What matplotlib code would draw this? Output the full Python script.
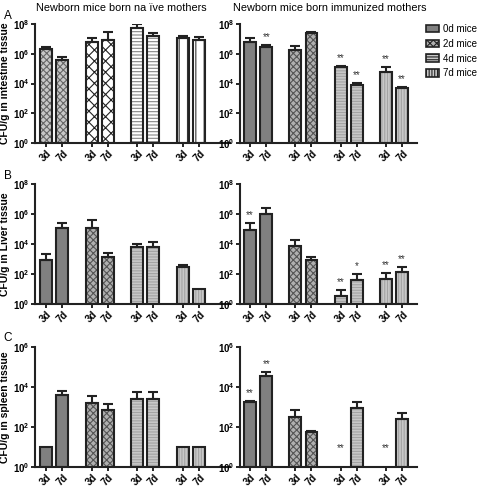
import matplotlib
matplotlib.use("Agg")
import matplotlib.pyplot as plt
import numpy as np

plt.rcParams['font.family'] = ['Liberation Sans', 'DejaVu Sans']
plt.rcParams['mathtext.fontset'] = 'custom'
plt.rcParams['mathtext.rm'] = 'Liberation Sans'
plt.rcParams['mathtext.bf'] = 'Liberation Sans:bold'
plt.rcParams['hatch.linewidth'] = 0.8

# groups: 0d, 2d, 4d, 7d mice ; each with 3d and 7d bars
groups = ['0d mice', '2d mice', '4d mice', '7d mice']
days = ['3d', '7d']

# log10 CFU/g means and log10 of top of error bar (None = no bar / no error)
# intestine
int_naive = [6.30, 5.56, 6.78, 6.96, 7.77, 7.23, 7.07, 6.91]
int_naive_err = [6.50, 5.79, 7.07, 7.45, 8.04, 7.43, 7.23, 7.12]
int_imm = [6.80, 6.44, 6.28, 7.39, 5.14, 3.90, 4.75, 3.67]
int_imm_err = [7.07, 6.62, 6.55, 7.48, 5.20, 4.03, 5.11, 3.74]
int_imm_sig = ['', '**', '', '', '**', '**', '**', '**']
# liver
liv_naive = [2.90, 5.08, 5.06, 3.14, 3.79, 3.79, 2.45, 1.00]
liv_naive_err = [3.30, 5.37, 5.57, 3.41, 3.99, 4.16, 2.63, None]
liv_imm = [4.92, 6.01, 3.85, 2.94, 0.56, 1.58, 1.63, 2.15]
liv_imm_err = [5.37, 6.37, 4.25, 3.10, 0.91, 1.98, 2.07, 2.43]
liv_imm_sig = ['**', '', '', '', '**', '*', '**', '**']
# spleen
spl_naive = [1.00, 3.60, 3.17, 2.84, 3.41, 3.41, 1.00, 1.00]
spl_naive_err = [None, 3.79, 3.52, 3.16, 3.75, 3.75, None, None]
spl_imm = [3.24, 4.55, 2.51, 1.73, 0.0, 2.92, 0.0, 2.39]
spl_imm_err = [3.31, 4.72, 2.84, 1.81, None, 3.26, None, 2.71]
spl_imm_sig = ['**', '**', '', '', '**', '', '**', '']

xpos = [0, 1, 2.8, 3.8, 5.6, 6.6, 8.4, 9.4]
width = 0.74

# (fill, hatch, hatch colour)
gray_styles = [
    ('#808080', None, '#808080'),
    ('#b0b0b0', 'xxxxx', '#555555'),
    ('#c8c8c8', '------', '#a4a4a4'),
    ('#c8c8c8', '||||||', '#a4a4a4'),
]
naive_a_styles = [
    ('#c8c8c8', 'xxxxx', '#666666'),
    ('white', 'xxx', '#222222'),
    ('white', '-----', '#888888'),
    ('white', '||', '#333333'),
]


def draw(ax, vals, errs, styles, top, sig=None, xmax=11.3, xmin=-0.68):
    for i, (x, v) in enumerate(zip(xpos, vals)):
        fc, hatch, hc = styles[i // 2]
        if v > 0:
            ax.bar(x, 10**v - 1, bottom=1, width=width, color=fc,
                   hatch=hatch, edgecolor=hc, linewidth=0, zorder=2)
            ax.bar(x, 10**v - 1, bottom=1, width=width, fill=False,
                   edgecolor='#222222', linewidth=1.5, zorder=2.5)
        e = errs[i]
        if e is not None:
            ax.errorbar(x, 10**v, yerr=[[0], [10**e - 10**v]], fmt='none',
                        ecolor='#222222', elinewidth=1.5, capsize=3.5, capthick=1.5, zorder=3)
        if sig and sig[i]:
            ytop = e if e is not None else v
            if v == 0:
                ytop = 0.55
            ax.text(x, 10**(ytop + 0.2 * top / 8), sig[i], ha='center', va='bottom',
                    fontsize=7, color='#333333')
    ax.set_yscale('log')
    ax.set_ylim(1, 10**top)
    ax.set_xlim(xmin, xmax)
    ticks = list(range(0, top + 1, 2))
    ax.set_yticks([10**t for t in ticks])
    ax.set_yticklabels([r'$\mathbf{10^{%d}}$' % t for t in ticks], fontsize=7)
    ax.minorticks_off()
    ax.set_xticks(xpos)
    ax.set_xticklabels(days * 4, rotation=45, fontsize=7, fontweight='bold')
    for s in ['top', 'right']:
        ax.spines[s].set_visible(False)
    for s in ['left', 'bottom']:
        ax.spines[s].set_linewidth(1.5)
        ax.spines[s].set_color('#222222')
    ax.tick_params(width=1.2, length=3, pad=1)


fig = plt.figure(figsize=(4.8, 4.87), dpi=100)
rows = [(0.707, 0.243), (0.376, 0.246), (0.041, 0.247)]
axL = [fig.add_axes([0.073, b, 0.406, h]) for b, h in rows]
axR = [fig.add_axes([0.5, b, 0.369, h]) for b, h in rows]

draw(axL[0], int_naive, int_naive_err, naive_a_styles, 8)
draw(axR[0], int_imm, int_imm_err, gray_styles, 8, int_imm_sig, xmax=10.33, xmin=-0.62)
draw(axL[1], liv_naive, liv_naive_err, gray_styles, 8)
draw(axR[1], liv_imm, liv_imm_err, gray_styles, 8, liv_imm_sig, xmax=10.33, xmin=-0.62)
draw(axL[2], spl_naive, spl_naive_err, gray_styles, 6)
draw(axR[2], spl_imm, spl_imm_err, gray_styles, 6, spl_imm_sig, xmax=10.33, xmin=-0.62)

fig.text(0.252, 0.993, 'Newborn mice born na ïve mothers', fontsize=7.8, ha='center', va='top')
fig.text(0.688, 0.993, 'Newborn mice born immunized mothers', fontsize=7.8, ha='center', va='top')

ylabels = ['CFU/g in intestine tissue', 'CFU/g in Liver tissue', 'CFU/g in spleen tissue']
for ax, lab, letter in zip(axL, ylabels, ['A', 'B', 'C']):
    ax.set_ylabel(lab, fontsize=7.5, fontweight='bold', labelpad=2)
    ax.text(-0.16, 1.02, letter, transform=ax.transAxes, fontsize=8.5, ha='left', va='bottom')

handles = [plt.Rectangle((0, 0), 1, 1, facecolor=fc, hatch=h,
                         edgecolor='#222222', linewidth=1.2) for fc, h, hc in gray_styles]
fig.legend(handles, groups, loc='upper left', bbox_to_anchor=(0.887, 0.951), frameon=False,
           fontsize=7, handlelength=1.35, handleheight=0.8, labelspacing=0.5,
           handletextpad=0.45, borderaxespad=0, borderpad=0)

fig.savefig('out.png', dpi=100)
